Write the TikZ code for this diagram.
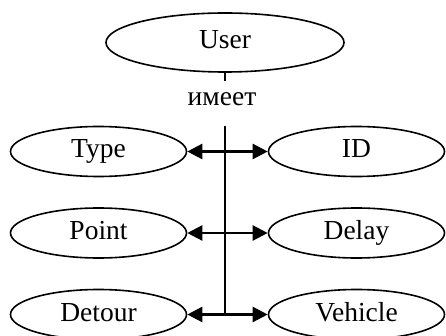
\documentclass[tikz,border=0pt]{standalone}
\usepackage{fontspec}
\setmainfont{Liberation Serif}
\usetikzlibrary{shapes.geometric,arrows.meta}
\begin{document}
\begin{tikzpicture}[x=1pt,y=-1pt,
  label font/.style={font=\fontsize{27.5}{32}\selectfont},
  entity/.style={ellipse,draw,line width=1.6pt,inner sep=0pt,
    minimum width=176pt,minimum height=50pt,
    text height=19pt,text depth=6pt,label font},
  link/.style={line width=2.4pt},
  attr/.style={link,-{Triangle[length=15pt,width=15pt]}}]
  \useasboundingbox (0,0) rectangle (446,336);
  \clip (0,0) rectangle (446,336);

  % central entity and its relation label
  \node[entity,minimum width=238pt,minimum height=59pt] (user) at (225,42.5) {User};
  \node[label font,anchor=base] (rel) at (222,106) {имеет};

  % attributes on both sides of the spine
  \node[entity] (type)    at (98.5,151.5) {Type};
  \node[entity] (id)      at (356.5,151.5) {ID};
  \node[entity] (point)   at (98.5,233) {Point};
  \node[entity] (delay)   at (356.5,233) {Delay};
  \node[entity] (detour)  at (98.5,314.5) {Detour};
  \node[entity] (vehicle) at (356.5,314.5) {Vehicle};

  % spine coordinates
  \coordinate (tick) at (225,81);
  \coordinate (top)  at (225,126);
  \coordinate (r1)   at (225,151.5);
  \coordinate (r2)   at (225,233);
  \coordinate (r3)   at (225,314.5);

  \draw[link] (user.south) -- (tick);
  \draw[link,line width=2.8pt] (top) -- (r3);

  \draw[attr] (r1) -- (type.east);
  \draw[attr] (r1) -- (id.west);
  \draw[attr] (r2) -- (point.east);
  \draw[attr] (r2) -- (delay.west);
  \draw[attr] (r3) -- (detour.east);
  \draw[attr] (r3) -- (vehicle.west);
\end{tikzpicture}
\end{document}
